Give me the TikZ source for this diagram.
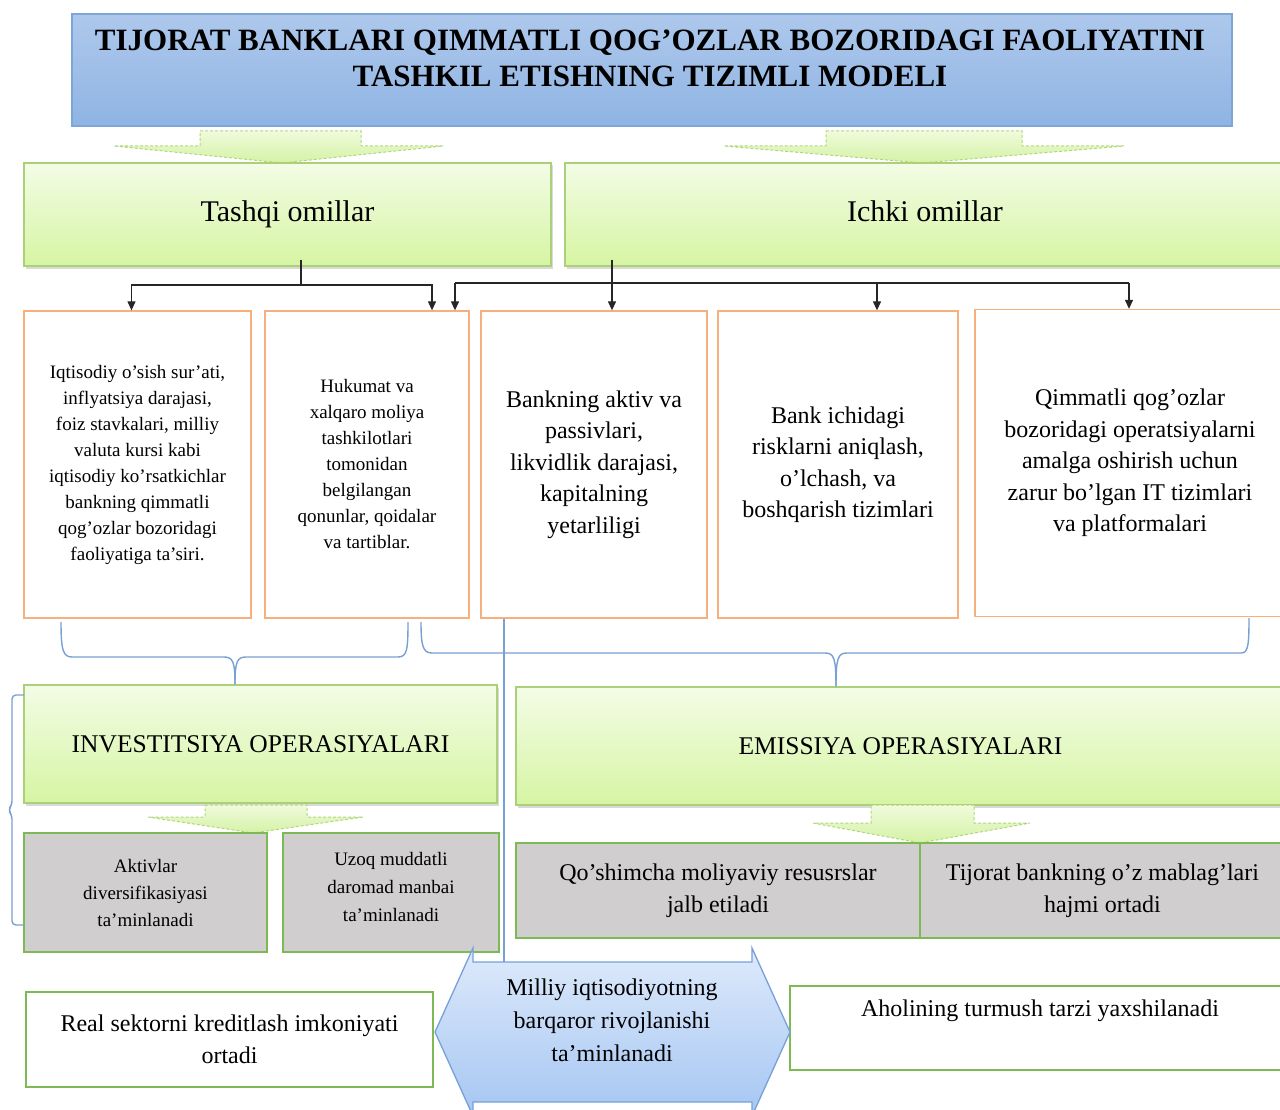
\documentclass[tikz,border=0pt]{standalone}
\usepackage{fontspec}
\setmainfont{Liberation Serif}[BoldFont={Liberation Serif Bold}]
\usetikzlibrary{arrows.meta,shadows,calc}
\definecolor{titletop}{RGB}{174,200,236}
\definecolor{titlebot}{RGB}{143,180,227}
\definecolor{titlebd}{RGB}{125,165,215}
\definecolor{gtop}{RGB}{243,252,230}
\definecolor{gbot}{RGB}{214,245,163}
\definecolor{gbd}{RGB}{172,207,122}
\definecolor{orng}{RGB}{247,175,125}
\definecolor{grayf}{RGB}{208,206,206}
\definecolor{graybd}{RGB}{125,185,85}
\definecolor{bracec}{RGB}{120,160,212}
\definecolor{hextop}{RGB}{222,234,251}
\definecolor{hexbot}{RGB}{165,198,242}
\definecolor{hexbd}{RGB}{120,160,215}
\definecolor{batop}{RGB}{240,251,220}
\definecolor{babot}{RGB}{212,242,165}
\definecolor{babd}{RGB}{178,214,125}
\begin{document}
\begin{tikzpicture}[x=1pt,y=-1pt,
  titlebox/.style={draw=titlebd, line width=1.3pt, top color=titletop, bottom color=titlebot, inner sep=0pt},
  gbox/.style={draw=gbd, line width=1.3pt, top color=gtop, bottom color=gbot, align=center, inner sep=2pt,
     drop shadow={shadow xshift=1.5pt, shadow yshift=-2.5pt, opacity=.3}},
  obox/.style={draw=orng, line width=1.3pt, fill=white, align=center, inner sep=2pt},
  graybox/.style={draw=graybd, line width=1.2pt, fill=grayf, align=center, inner sep=2pt},
  wbox/.style={draw=graybd, line width=1.1pt, fill=white, align=center, inner sep=2pt},
  conn/.style={draw=black!85, line width=1.2pt},
  arr/.style={conn, -{Triangle[length=9pt,width=8pt]}},
  brace/.style={draw=bracec, line width=1.4pt},
  barrow/.style={draw=babd, densely dashed, line width=1pt, top color=batop, bottom color=babot},
  hexs/.style={draw=hexbd, line width=1.3pt, top color=hextop, bottom color=hexbot},
  fsmall/.style={font=\fontsize{19}{26}\selectfont},
  fmid/.style={font=\fontsize{24}{31.5}\selectfont},
  fop/.style={font=\fontsize{25.5}{30}\selectfont},
  fbig/.style={font=\fontsize{30}{36}\selectfont},
  ftitle/.style={font=\fontsize{31}{36}\selectfont\bfseries}
]
\clip (0,0) rectangle (1280,1110);

% ---------- title ----------
\node[titlebox, minimum width=1160pt, minimum height=112pt] (title) at (652,70) {};
\node[ftitle, align=center] (titletext) at (650,58)
  {TIJORAT BANKLARI QIMMATLI QOG’OZLAR BOZORIDAGI FAOLIYATINI\\TASHKIL ETISHNING TIZIMLI MODELI};

% ---------- block arrows under title ----------
\path[barrow] (200,131) -- (361,131) -- (361,146) -- (443,146) -- (282,163) -- (114,146) -- (200,146) -- cycle;
\path[barrow] (826,131) -- (1022,131) -- (1022,146) -- (1124,146) -- (922,163) -- (724,146) -- (826,146) -- cycle;

% ---------- factor boxes ----------
\node[gbox, fbig, text depth=7pt, minimum width=527pt, minimum height=103pt] (tashqi) at (287.5,214.5) {Tashqi omillar};
\node[gbox, fbig, text depth=7pt, minimum width=720pt, minimum height=103pt] (ichki) at (925,214.5) {Ichki omillar};

% ---------- five boxes ----------
\node[obox, fsmall, minimum width=227pt, minimum height=307pt] (b1) at (137.5,464.5)
  {Iqtisodiy o'sish sur'ati,\\inflyatsiya darajasi,\\foiz stavkalari, milliy\\valuta kursi kabi\\iqtisodiy ko'rsatkichlar\\bankning qimmatli\\qog'ozlar bozoridagi\\faoliyatiga ta'siri.};
\node[obox, fsmall, minimum width=204pt, minimum height=307pt] (b2) at (367,464.5)
  {Hukumat va\\xalqaro moliya\\tashkilotlari\\tomonidan\\belgilangan\\qonunlar, qoidalar\\va tartiblar.};
\node[obox, fmid, minimum width=226pt, minimum height=307pt] (b3) at (594,464.5)
  {Bankning aktiv va\\passivlari,\\likvidlik darajasi,\\kapitalning\\yetarliligi};
\node[obox, fmid, minimum width=240pt, minimum height=307pt] (b4) at (838,464.5)
  {Bank ichidagi\\risklarni aniqlash,\\o'lchash, va\\boshqarish tizimlari};
\node[obox, fmid, minimum width=310pt, minimum height=307pt] (b5) at (1130,463)
  {Qimmatli qog'ozlar\\bozoridagi operatsiyalarni\\amalga oshirish uchun\\zarur bo'lgan IT tizimlari\\va platformalari};

% ---------- connectors from factors ----------
\coordinate (tj) at (301,285);
\coordinate (ij) at (612,283);
\coordinate (il) at (455,283);
\coordinate (i4) at (877,283);
\coordinate (ir) at (1129,283);
\draw[conn] ([yshift=7pt]tashqi.south -| tj) -- (tj);
\draw[arr] (tj) -| ([xshift=-6pt]b1.north);
\draw[arr] (tj) -| ([xshift=65pt]b2.north);
\draw[arr] ([yshift=7pt]ichki.south -| ij) -- (ij |- b3.north);
\draw[conn] (il) -- (ir);
\draw[arr] (il) -- (il |- b2.north);
\draw[arr] (i4) -- (i4 |- b4.north);
\draw[arr] (ir) -- (ir |- b5.north);

% ---------- operations ----------
\node[gbox, fop, minimum width=473pt, minimum height=118pt] (inv) at (260.5,744) {INVESTITSIYA OPERASIYALARI};
\node[gbox, fop, minimum width=769pt, minimum height=118pt] (emi) at (900.5,746) {EMISSIYA OPERASIYALARI};

% braces
\coordinate (lb1) at (61,622);
\coordinate (lb2) at (408,622);
\coordinate (rb1) at (421,622);
\coordinate (rb2) at (1249,618);
\coordinate (lbx) at (235,0);
\coordinate (rbx) at (836,0);
\coordinate (ltip) at (inv.north -| lbx);
\coordinate (rtip) at (emi.north -| rbx);
\draw[brace] (lb1) .. controls (61,650) and (63,657) .. (72,657) -- (224,657)
   .. controls (233,657) and (235,662) .. (ltip);
\draw[brace] (ltip) .. controls (235,662) and (237,657) .. (246,657) -- (398,657)
   .. controls (407,657) and (408,650) .. (lb2);
\draw[brace] (rb1) .. controls (421,646) and (423,653) .. (432,653) -- (825,653)
   .. controls (834,653) and (836,658) .. (rtip);
\draw[brace] (rtip) .. controls (836,658) and (838,653) .. (847,653) -- (1241,653)
   .. controls (1248,653) and (1249,646) .. (rb2);

% block arrows under operations
\path[barrow] (205,805) -- (307,805) -- (307,817) -- (363,817) -- (253,833) -- (148,817) -- (205,817) -- cycle;
\path[barrow] (871,805) -- (974,805) -- (974,823) -- (1030,823) -- (920,843) -- (813,823) -- (871,823) -- cycle;

% ---------- results ----------
\node[graybox, font=\fontsize{19}{27}\selectfont, minimum width=243pt, minimum height=119pt] (akt) at (145.5,892.5)
  {Aktivlar\\diversifikasiyasi\\ta'minlanadi};
\node[graybox, font=\fontsize{19}{28}\selectfont, minimum width=216pt, minimum height=119pt, text depth=12pt] (uzoq) at (391,892.5)
  {Uzoq muddatli\\daromad manbai\\ta'minlanadi};
\node[graybox, font=\fontsize{24}{32}\selectfont, minimum width=404pt, minimum height=95pt] (qosh) at (718,890.5)
  {Qo’shimcha moliyaviy resusrslar\\jalb etiladi};
\node[graybox, font=\fontsize{24}{32}\selectfont, minimum width=365pt, minimum height=95pt] (tij) at (1102.5,890.5)
  {Tijorat bankning o’z mablag’lari\\hajmi ortadi};

% left bracket
\coordinate (lk1) at (24,695);
\coordinate (lk2) at (24,925);
\draw[brace, rounded corners=4pt] (lk1) -- (12,695) -- (12,805) -- (8,810) -- (12,815) -- (12,925) -- (lk2);

% ---------- bottom ----------
\node[wbox, font=\fontsize{24}{32}\selectfont, minimum width=407pt, minimum height=95pt] (real) at (229.5,1039.5)
  {Real sektorni kreditlash imkoniyati\\ortadi};
\node[wbox, minimum width=495pt, minimum height=84pt] (aho) at (1037.5,1028) {};
\node[fmid] (ahotext) at (1040,1011) {Aholining turmush tarzi yaxshilanadi};

\path[hexs] (435,1032) -- (473,948) -- (473,962) -- (752,962) -- (752,948) -- (790,1032)
   -- (752,1116) -- (752,1102) -- (473,1102) -- (473,1116) -- cycle;
\node[font=\fontsize{24}{33}\selectfont, align=center] (milliy) at (612,1020)
  {Milliy iqtisodiyotning\\barqaror rivojlanishi\\ta’minlanadi};

% vertical blue line from b3 to the hexagon
\coordinate (hextop) at (504,962);
\draw[brace, line width=1.2pt] (hextop |- b3.south) -- (hextop);
\end{tikzpicture}
\end{document}
